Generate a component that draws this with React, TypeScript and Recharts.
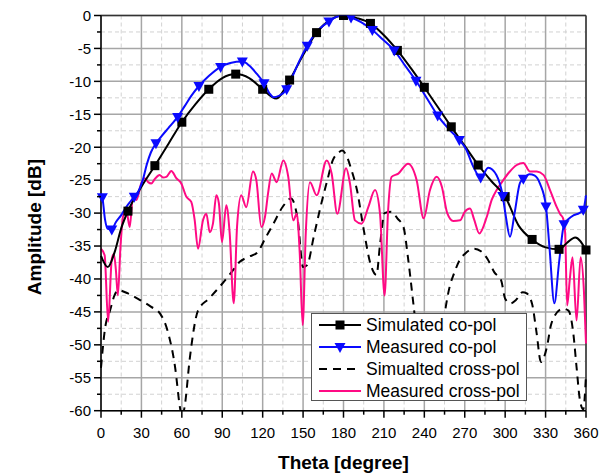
import React from 'react';
import {
  ComposedChart,
  Line,
  XAxis,
  YAxis,
  CartesianGrid,
  Legend,
  ReferenceLine
} from 'recharts';

const font = 'Arial, "Liberation Sans", Helvetica, sans-serif';

// axis ticks (minor every 15 deg / 2.5 dB, labels on majors)
const thetaTicks = [0, 15, 30, 45, 60, 75, 90, 105, 120, 135, 150, 165, 180, 195, 210, 225, 240, 255, 270, 285, 300, 315, 330, 345, 360];
const thetaMajor = [0, 30, 60, 90, 120, 150, 180, 210, 240, 270, 300, 330, 360];
const thetaMinor = [15, 45, 75, 105, 135, 165, 195, 225, 255, 285, 315, 345];
const ampTicks = [0, -2.5, -5, -7.5, -10, -12.5, -15, -17.5, -20, -22.5, -25, -27.5, -30, -32.5, -35, -37.5, -40, -42.5, -45, -47.5, -50, -52.5, -55, -57.5, -60];
const ampMajor = [0, -5, -10, -15, -20, -25, -30, -35, -40, -45, -50, -55, -60];
const ampMinor = [-2.5, -7.5, -12.5, -17.5, -22.5, -27.5, -32.5, -37.5, -42.5, -47.5, -52.5, -57.5];

const seriesNames = ['Simulated co-pol', 'Measured co-pol', 'Simualted cross-pol', 'Measured cross-pol'];

// Simulated co-pol
const simCoTheta = [0, 5, 10, 15, 20, 30, 40, 50, 60, 70, 80, 90, 100, 110, 120, 130, 140, 150, 160, 170, 180, 190, 200, 210, 220, 230, 240, 250, 260, 270, 280, 290, 300, 310, 320, 330, 340, 346, 352, 360];
const simCoDb = [-36.5, -38.2, -36.0, -32.3, -29.7, -26.0, -22.8, -19.5, -16.2, -13.5, -11.2, -9.5, -8.9, -9.5, -11.2, -12.6, -9.8, -6.0, -2.6, -0.7, 0, -0.4, -1.2, -3.0, -5.3, -8.0, -10.9, -13.9, -16.9, -19.8, -22.7, -25.2, -27.5, -31.9, -34.0, -35.2, -35.5, -34.5, -33.7, -35.6];
const simCoMarks = [20, 40, 60, 80, 100, 120, 140, 160, 180, 200, 220, 240, 260, 280, 300, 320, 340, 360];

// Measured co-pol
const measCoTheta = [0, 1, 3, 5, 8, 11, 15, 19, 22, 24.7, 28, 31, 34, 37, 40.8, 45, 50, 56.9, 62, 67, 72.7, 80, 88.8, 96, 104.9, 110, 115, 121, 125, 128, 132, 137.8, 142, 147, 153.1, 160, 169.2, 176, 180, 185.6, 193, 201.4, 209, 217.7, 225, 233.8, 242, 249.9, 258, 266, 271, 276, 281.8, 287.5, 293.5, 298.2, 300.5, 303.6, 307, 311, 313.5, 318, 322, 326, 330.3, 333, 336.5, 340, 343.7, 347, 351, 355, 358, 360];
const measCoDb = [-27.0, -27.6, -31.0, -32.4, -32.5, -31.4, -30.3, -29.0, -28.2, -27.5, -26.6, -25.0, -22.6, -20.8, -19.4, -18.3, -17.1, -15.4, -13.8, -12.2, -10.7, -9.2, -7.8, -7.2, -7.0, -7.6, -8.7, -10.3, -11.8, -12.4, -12.2, -11.2, -9.3, -7.0, -4.6, -2.5, -0.9, -0.1, 0, -0.3, -1.0, -2.2, -3.6, -5.3, -7.4, -9.9, -12.6, -15.2, -17.2, -18.9, -20.3, -22.8, -24.6, -23.1, -24.2, -27.4, -30.5, -33.6, -30.0, -25.4, -24.8, -24.1, -24.3, -25.6, -29.0, -35.5, -43.7, -37.5, -31.7, -30.9, -30.3, -30.0, -29.5, -27.3];
const measCoMarks = [1, 8, 24.7, 40.8, 56.9, 72.7, 88.8, 104.9, 121, 137.8, 153.1, 169.2, 185.6, 201.4, 217.7, 233.8, 249.9, 266, 281.8, 298.2, 313.5, 330.3, 343.7, 358];

// Simulated cross-pol
const simXTheta = [0, 3, 6.7, 10, 13, 20, 29, 37, 44, 50, 55, 58.6, 60, 62, 66, 72, 80, 88, 96, 103, 110, 116, 122, 128, 135, 141, 146, 150, 153, 158, 163, 168, 172, 176, 179, 182, 186, 190, 195, 200, 204.5, 207, 210.5, 215.5, 220, 224.5, 228, 232, 236, 240, 244, 248, 252, 255.3, 259, 262, 266, 270, 277, 282, 287, 292, 297, 300, 304, 308, 313, 316, 320, 323.4, 326.5, 331, 334, 337, 343, 347, 350.6, 353, 355.5, 358, 360];
const simXDb = [-53.5, -47.5, -44.8, -42.5, -41.7, -42.2, -43.2, -44.2, -45.3, -48.3, -53.4, -59.5, -61, -59.5, -51.9, -44.8, -43.0, -41.2, -39.2, -37.4, -36.6, -36.0, -33.8, -31.6, -29.0, -27.8, -31.0, -38.2, -37.9, -33.5, -29.0, -25.0, -22.0, -20.9, -20.5, -21.2, -23.5, -26.5, -32.5, -37.7, -39.4, -35.0, -30.0, -29.8, -30.8, -32.1, -37.0, -44.0, -51.0, -55.5, -57.0, -55.5, -50.0, -45.0, -41.0, -39.2, -37.2, -36.2, -35.4, -35.8, -37.0, -39.0, -40.2, -43.0, -43.7, -43.2, -42.0, -42.2, -43.8, -48.3, -52.6, -50.3, -47.0, -45.5, -44.5, -44.8, -48.3, -53.4, -58.4, -59.8, -54.5];

// Measured cross-pol
const measXTheta = [0, 2.7, 5.3, 8, 9.5, 11, 12.5, 14.5, 16.3, 18.8, 21.3, 23.8, 26.2, 29.9, 32.4, 35, 37.3, 40, 43.5, 46, 48.5, 52.2, 55.9, 59.6, 63.3, 67, 69.5, 72, 75.7, 78.2, 80.7, 83.1, 85.6, 87.5, 89.8, 93, 95.5, 98.5, 101, 104.1, 107.8, 112.8, 115.3, 119, 121.7, 124, 126.7, 130.4, 135.3, 139, 142.7, 145.3, 147.5, 149.7, 152, 155.1, 160.1, 167.5, 171.2, 175.4, 181.9, 184.8, 188.5, 193.5, 198.4, 203.4, 207.1, 210.5, 213, 215.7, 220.7, 227.9, 234.3, 239.5, 244.2, 249.2, 253, 257, 261.5, 266.5, 270, 273.9, 277, 280.8, 286.3, 290, 293.7, 298.6, 303, 308.6, 313.5, 318.4, 323.4, 328.4, 333.3, 338.3, 341, 343, 344.5, 346, 348, 350, 353, 356, 358.5, 360];
const measXDb = [-35.4, -36.4, -46.5, -37.0, -36.2, -38.5, -42.5, -35.0, -30.6, -29.6, -32.1, -27.3, -28.0, -25.5, -24.7, -25.3, -25.5, -24.8, -24.2, -24.6, -24.5, -23.6, -24.7, -25.5, -27.5, -28.3, -31.0, -35.4, -31.1, -30.1, -32.9, -31.6, -27.3, -28.5, -34.4, -28.8, -33.0, -43.7, -32.0, -27.3, -29.1, -23.7, -25.0, -32.1, -30.6, -27.0, -24.0, -25.3, -22.0, -24.5, -31.1, -30.1, -36.0, -47.0, -33.0, -25.3, -27.3, -22.0, -24.0, -30.1, -23.2, -25.5, -31.1, -31.6, -29.1, -26.5, -30.1, -42.5, -30.0, -24.5, -24.0, -22.5, -25.0, -30.8, -26.5, -24.5, -26.0, -30.0, -31.2, -31.1, -29.8, -29.3, -31.0, -33.1, -30.6, -28.0, -26.5, -25.0, -23.8, -22.7, -22.4, -23.7, -23.7, -24.2, -26.5, -29.1, -30.2, -30.8, -33.0, -44.0, -40.0, -36.7, -46.3, -36.7, -42.0, -49.8];

const toRows = (theta: number[], db: number[]) => theta.map((t, i) => ({ t, v: db[i] }));
const simCoData = toRows(simCoTheta, simCoDb);
const measCoData = toRows(measCoTheta, measCoDb);
const simXData = toRows(simXTheta, simXDb);
const measXData = toRows(measXTheta, measXDb);

const BLACK = '#000000';
const BLUE = '#0a0aff';
const PINK = '#ff0a84';

const XTick = (props: any) => {
  const { x, y, payload } = props;
  const v = payload.value;
  const major = v % 30 === 0;
  return (
    <g>
      <line x1={x} x2={x} y1={y} y2={y + (major ? 7 : 4)} stroke="#000" strokeWidth={1.5} />
      {major && (
        <text x={x} y={y + 27} textAnchor="middle" fontSize={15} fontFamily={font} fill="#000">
          {v}
        </text>
      )}
    </g>
  );
};

const YTick = (props: any) => {
  const { x, y, payload } = props;
  const v = payload.value;
  const major = v % 5 === 0;
  return (
    <g>
      <line x1={x - (major ? 7 : 4)} x2={x} y1={y} y2={y} stroke="#000" strokeWidth={1.5} />
      {major && (
        <text x={x - 10} y={y + 5.3} textAnchor="end" fontSize={15} fontFamily={font} fill="#000">
          {v}
        </text>
      )}
    </g>
  );
};

const squareDot = (p: any) => {
  const { cx, cy, payload, index } = p;
  if (!simCoMarks.includes(payload.t)) return <g key={`sq${index}`} />;
  return <rect key={`sq${index}`} x={cx - 4.5} y={cy - 4.5} width={9} height={9} fill={BLACK} />;
};

const triDot = (p: any) => {
  const { cx, cy, payload, index } = p;
  if (!measCoMarks.includes(payload.t)) return <g key={`tr${index}`} />;
  return (
    <polygon
      key={`tr${index}`}
      points={`${cx - 5.5},${cy - 4} ${cx + 5.5},${cy - 4} ${cx},${cy + 6}`}
      fill={BLUE}
    />
  );
};

const renderLegend = () => {
  const sample = (i: number) => {
    if (i === 0)
      return (
        <>
          <line x1={0} x2={42} y1={8} y2={8} stroke={BLACK} strokeWidth={2} />
          <rect x={16.5} y={3.5} width={9} height={9} fill={BLACK} />
        </>
      );
    if (i === 1)
      return (
        <>
          <line x1={0} x2={42} y1={8} y2={8} stroke={BLUE} strokeWidth={2} />
          <polygon points="15.5,4 26.5,4 21,14" fill={BLUE} />
        </>
      );
    if (i === 2)
      return <line x1={0} x2={42} y1={8} y2={8} stroke={BLACK} strokeWidth={2} strokeDasharray="8 6" />;
    return <line x1={0} x2={42} y1={8} y2={8} stroke={PINK} strokeWidth={2} />;
  };
  return (
    <div
      style={{
        width: 214,
        height: 86,
        border: '1px solid #555',
        background: '#fff',
        fontFamily: font,
        fontSize: 17.5,
        color: '#000'
      }}
    >
      {seriesNames.map((name, i) => (
        <div key={name} style={{ height: 22, display: 'flex', alignItems: 'center', lineHeight: '22px' }}>
          <svg width={42} height={16} style={{ marginLeft: 7, marginRight: 5 }}>
            {sample(i)}
          </svg>
          <span>{name}</span>
        </div>
      ))}
    </div>
  );
};

const YTitle = (props: any) => {
  const vb = props.viewBox;
  const cx = vb.x + 35;
  const cy = vb.y + vb.height / 2 + 14;
  return (
    <text
      x={cx}
      y={cy}
      transform={`rotate(-90, ${cx}, ${cy})`}
      textAnchor="middle"
      dominantBaseline="central"
      fontSize={19}
      fontWeight="bold"
      fontFamily={font}
      fill="#000"
    >
      Amplitude [dB]
    </text>
  );
};

const XTitle = (props: any) => {
  const vb = props.viewBox;
  return (
    <text
      x={vb.x + vb.width / 2}
      y={vb.y + 58}
      textAnchor="middle"
      fontSize={19}
      fontWeight="bold"
      fontFamily={font}
      fill="#000"
    >
      Theta [degree]
    </text>
  );
};

export default function App() {
  return (
    <div style={{ position: 'absolute', left: 0, top: 0, width: 610, height: 476, background: '#fff' }}>
      <ComposedChart width={610} height={476} margin={{ top: 15.5, right: 24, bottom: 0, left: 0 }}>
        <CartesianGrid
          horizontalValues={ampMinor}
          verticalValues={thetaMinor}
          stroke="#d2d2d2"
          strokeDasharray="4 3"
          strokeWidth={1}
        />
        <CartesianGrid horizontalValues={ampMajor} verticalValues={thetaMajor} stroke="#a6a6a6" strokeWidth={1.5} />
        <XAxis
          type="number"
          dataKey="t"
          domain={[0, 360]}
          ticks={thetaTicks}
          interval={0}
          height={65.3}
          tickSize={0}
          tickMargin={0}
          tick={<XTick />}
          axisLine={{ stroke: '#000', strokeWidth: 1.5 }}
          label={{ content: <XTitle /> }}
        />
        <YAxis
          type="number"
          domain={[-60, 0]}
          ticks={ampTicks}
          interval={0}
          width={101}
          allowDataOverflow
          tickSize={0}
          tickMargin={0}
          tick={<YTick />}
          axisLine={{ stroke: '#000', strokeWidth: 1.5 }}
          label={{ content: <YTitle /> }}
        />
        <ReferenceLine y={0} stroke="#333" strokeWidth={1.5} />
        <ReferenceLine x={360} stroke="#333" strokeWidth={1.5} />
        <Line
          data={simXData}
          dataKey="v"
          type="monotone"
          stroke={BLACK}
          strokeWidth={2}
          strokeDasharray="8 6"
          dot={false}
          isAnimationActive={false}
          legendType="none"
        />
        <Line
          data={measXData}
          dataKey="v"
          type="monotone"
          stroke={PINK}
          strokeWidth={2}
          dot={false}
          isAnimationActive={false}
        />
        <Line
          data={simCoData}
          dataKey="v"
          type="monotone"
          stroke={BLACK}
          strokeWidth={2}
          dot={squareDot}
          activeDot={false}
          isAnimationActive={false}
        />
        <Line
          data={measCoData}
          dataKey="v"
          type="monotone"
          stroke={BLUE}
          strokeWidth={2}
          dot={triDot}
          activeDot={false}
          isAnimationActive={false}
        />
        <Legend
          content={renderLegend}
          layout="horizontal"
          verticalAlign="middle"
          align="center"
          wrapperStyle={{ left: 311, top: 313, width: 216, height: 88 }}
        />
      </ComposedChart>
    </div>
  );
}
